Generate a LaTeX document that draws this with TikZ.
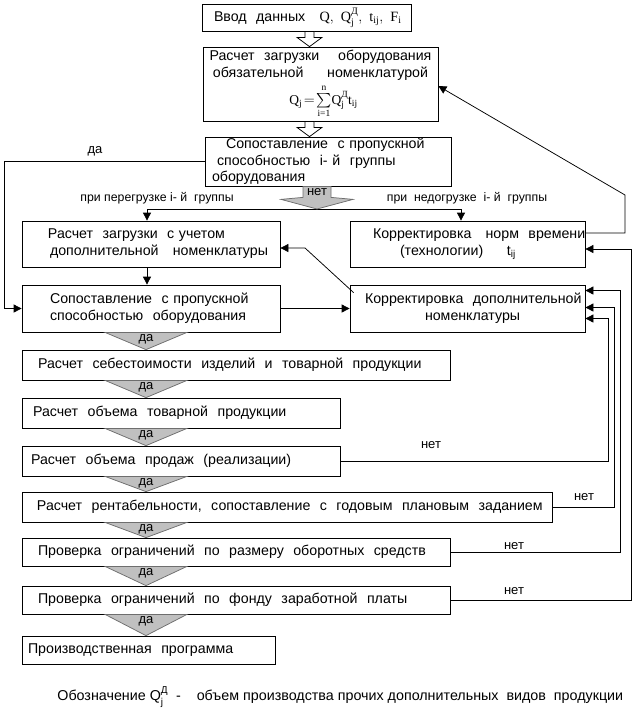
\documentclass[tikz,border=0pt]{standalone}
\usepackage{amsmath}
\usepackage{fontspec}
\setmainfont{Liberation Sans}
\newfontfamily\symfont{Liberation Serif}
\newcommand{\sv}[1]{\text{\symfont #1}}
\usepackage{tikz}
\usetikzlibrary{positioning,calc,arrows.meta}
\usepackage{xcolor}
\definecolor{shadefill}{RGB}{192,192,192}
\definecolor{shadeline}{RGB}{110,110,110}
\tikzset{every picture/.style={line width=0.75pt}}

\begin{document}
\begin{tikzpicture}[x=1pt,y=1pt,yscale=-1,
  box/.style={draw, inner ysep=0pt, align=left, font=\fontsize{14.2}{17}\selectfont},
  lbl/.style={inner sep=0pt, font=\fontsize{13}{15}\selectfont},
  small/.style={inner sep=0pt, font=\fontsize{12.3}{14}\selectfont},
  arr/.style={-{Triangle[length=8pt,width=8pt]}},
  hollow/.style={draw, fill=white},
  shade/.style={draw=shadeline, fill=shadefill}]
\useasboundingbox (0,0) rectangle (642,716);

% top block
\node[box, minimum width=209, minimum height=27, text width=185, inner xsep=12] (in) at (306.5,17.5)
  {Ввод~~данных~~~$\sv{Q},\ \sv{Q}_{\sv{j}}^{\sv{Д}},\ \sv{t}_{\sv{ij}},\ \sv{F}_{\sv{i}}$};
\node[box, minimum width=235, minimum height=74, text width=229, inner xsep=3, align=center] (calc) at (320.5,84)
  {Расчет~~загрузки~~~~оборудования\\обязательной~~~~~номенклатурой\\[3pt]
   {\fontsize{13.5}{15}\selectfont\mbox{\hspace*{6pt}$\sv{Q}_{\sv{j}}\!=\!\textstyle\sum\limits_{\sv{i=1}}^{\sv{n}}\!\sv{Q}_{\sv{j}}^{\sv{Д}}\sv{t}_{\sv{ij}}$}}};
\node[box, minimum width=246, minimum height=49, text width=232, inner xsep=7,
  font=\fontsize{14.2}{16.5}\selectfont] (cmp) at (328,161.5)
  {\hspace*{14pt}Сопоставление~~с~пропускной\\\hspace*{5pt}способностью~~i-~й~~группы\\оборудования};

% second row
\node[box, minimum width=258, minimum height=46, text width=206, inner xsep=26] (load) at (151,244)
  {Расчет~~загрузки~~с~учетом\\\hspace*{2pt}дополнительной~~~номенклатуры};
\node[box, minimum width=235, minimum height=46, text width=189, inner xsep=23] (norm) at (467.5,244)
  {Корректировка~~~норм~~времени\\\hspace*{27pt}(технологии)~~~~~$\text{t}_{\text{ij}}$};
\node[box, minimum width=258, minimum height=47, text width=202, inner xsep=28] (cap) at (151,308.5)
  {Сопоставление~~с~пропускной\\способностью~~оборудования};
\node[box, minimum width=235, minimum height=47, text width=205, inner xsep=15] (addc) at (467.5,308.5)
  {Корректировка~~дополнительной\\\hspace*{60pt}номенклатуры};

% main column
\node[box, minimum width=428, minimum height=30, text width=396, inner xsep=16] (cost) at (236,365)
  {Расчет~~себестоимости~~изделий~~и~~товарной~~продукции};
\node[box, minimum width=318, minimum height=30, text width=296, inner xsep=11] (vol) at (181,413)
  {Расчет~~объема~~товарной~~продукции};
\node[box, minimum width=318, minimum height=30, text width=300, inner xsep=9] (sales) at (181,461)
  {Расчет~~объема~~продаж~~(реализации)};
\node[box, minimum width=530, minimum height=30, text width=500, inner xsep=15] (prof) at (287,507)
  {Расчет~~рентабельности,~~сопоставление~~с~~годовым~~плановым~~заданием};
\node[box, minimum width=428, minimum height=28, text width=396, inner xsep=16] (wc) at (236,552)
  {Проверка~~ограничений~~по~~размеру~~оборотных~~средств};
\node[box, minimum width=428, minimum height=28, text width=396, inner xsep=16] (wage) at (236,600)
  {Проверка~~ограничений~~по~~фонду~~заработной~~платы};
\node[box, minimum width=253, minimum height=28, text width=241, inner xsep=6] (prog) at (148.5,650)
  {Производственная~~программа};

\node[anchor=west, inner sep=0pt, font=\fontsize{14.3}{16}\selectfont] (legend) at (57,697)
  {Обозначение~$\text{Q}_{\text{j}}^{\text{Д}}$~~-~~~~объем~производства~прочих~дополнительных~~видов~~продукции};

% hollow arrows
\coordinate (hx) at (309.5,0);
\foreach \a/\b in {in/calc, calc/cmp}
  \draw[hollow] ($(\a.south -| hx)+(-4.5,0)$) -- ++(9,0) -- ++(0,6) -- ++(8,0)
    -- ($(\b.north -| hx)+(0,0)$) -- ($(\a.south -| hx)+(-12.5,6)$) -- ++(8,0) -- cycle;

% branch
\coordinate (split) at (317,209);
\coordinate (lt) at (147,209);
\coordinate (rt) at (461,209);
\draw (lt) -- (rt);
\draw[arr] (lt) -- (lt |- load.north);
\draw[arr] (rt) -- (rt |- norm.north);
\draw[shade] ($(cmp.south -| split)+(-14,0)$) -- ++(28,0) -- ++(0,11) -- ++(22,2) -- (split)
  -- ($(cmp.south -| split)+(-36,13)$) -- ++(22,-2) -- cycle;
\node[lbl] (net0) at ($(cmp.south -| split)+(0,6)$) {нет};
\node[small] (over) at (157,198) {при~перегрузке~i-~й~~группы};
\node[small] (under) at (467,198) {при~~недогрузке~~i-~й~~группы};

% left loop
\coordinate (lx) at (4,0);
\draw[arr] (cmp.west) -- (cmp.west -| lx) |- (cap.west);
\node[lbl] (yes) at (95,151) {да};

\draw[arr] (load.south -| lt) -- (cap.north -| lt);
\draw[arr] (cap.east) -- (addc.west);
\coordinate (kink) at (305,248);
\draw[arr] ($(addc.north west)+(4,8)$) -- (kink) -- (kink -| load.east);
\coordinate (up) at (625,195);
\draw[arr] ($(norm.east)+(0,-11)$) -| (up) -- ($(calc.east)+(0,2)$);

% feedback on the right
\coordinate (ra) at (608,0);
\coordinate (rb) at (614,0);
\coordinate (rc) at (620,0);
\coordinate (rd) at (631,0);
\foreach \src/\col/\dst/\dy in {sales/ra/addc/10, prof/rb/addc/-1, wc/rc/addc/-18, wage/rd/norm/5}
  \draw[arr] (\src.east) -| ($(\col |- \dst.east)+(0,\dy)$) -- ($(\dst.east)+(0,\dy)$);
\node[lbl] (no1) at (431,445) {нет};
\node[lbl] (no2) at (584,497) {нет};
\node[lbl] (no3) at (514,546) {нет};
\node[lbl] (no4) at (514,591) {нет};

% yes arrows
\coordinate (ax) at (146,0);
\foreach \a/\b in {cap/cost, cost/vol, vol/sales, sales/prof, prof/wc, wc/wage, wage/prog}{
  \draw[shade] ($(\a.south -| ax)+(-41,0)$) -- ++(82,0) -- (\b.north -| ax) -- cycle;
  \node[lbl] (da-\a) at ($(\a.south -| ax)+(6.5*0,6.5)$) {да};
}

\end{tikzpicture}
\end{document}
